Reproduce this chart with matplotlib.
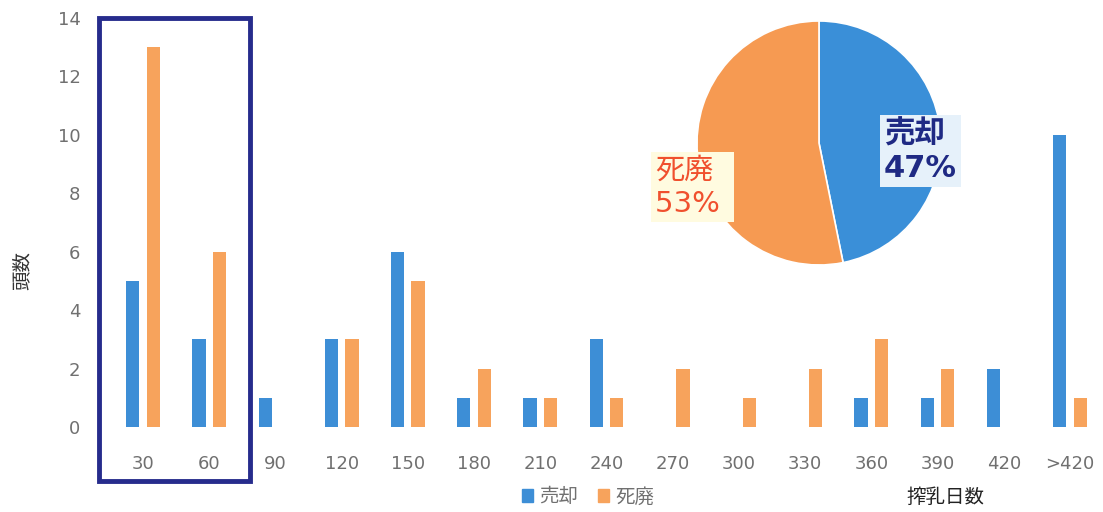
import matplotlib.pyplot as plt
import numpy as np
from matplotlib.patches import Patch, Rectangle

plt.rcParams['font.family'] = ['Noto Sans CJK JP', 'DejaVu Sans']

# days in milk (bins) and head counts for each outcome
days = ['30', '60', '90', '120', '150', '180', '210', '240', '270',
        '300', '330', '360', '390', '420', '>420']
sold = [5, 3, 1, 3, 6, 1, 1, 3, 0, 0, 0, 1, 1, 2, 10]
dead = [13, 6, 0, 3, 5, 2, 1, 1, 2, 1, 2, 3, 2, 0, 1]
y_ticks = [0, 2, 4, 6, 8, 10, 12, 14]

blue = '#3d8ed6'
orange = '#f7a35c'
grey = '#707070'
latin = ['DejaVu Sans', 'Noto Sans CJK JP']

W, H = 1103, 512
fig = plt.figure(figsize=(W / 100, H / 100), dpi=100)
ax = fig.add_axes([100 / W, 85 / H, 1003 / W, 409 / H])

x = np.arange(len(days))
ax.bar(x - 0.155, sold, width=0.2, color=blue)
ax.bar(x + 0.155, dead, width=0.2, color=orange)

ax.set_xlim(-0.65, 14.5)
ax.set_ylim(0, 14)
ax.set_yticks(y_ticks)
ax.set_xticks(x)
ax.set_xticklabels(days)
for lab in ax.get_xticklabels() + ax.get_yticklabels():
    lab.set_family(latin)
ax.tick_params(axis='both', length=0, labelsize=13, labelcolor=grey)
ax.tick_params(axis='x', pad=20)
ax.tick_params(axis='y', pad=14)
for s in ax.spines.values():
    s.set_visible(False)

fig.text(22 / W, 1 - 270 / H, '頭数', rotation=90, ha='center', va='center',
         fontsize=14, color='#333333')
fig.text(945 / W, 1 - 497 / H, '搾乳日数', ha='center', va='center',
         fontsize=14, color='#222222')

handles = [Patch(color=blue, label='売却'), Patch(color=orange, label='死廃')]
fig.legend(handles=handles, loc='center', bbox_to_anchor=(588 / W, 1 - 497 / H),
           ncol=2, frameon=False, fontsize=14, handlelength=0.6,
           handleheight=0.6, handletextpad=0.3, columnspacing=1.0,
           labelcolor=grey)

# highlight box around the first two bins
fig.patches.append(Rectangle((99 / W, 1 - 481 / H), 151 / W, 463 / H,
                             transform=fig.transFigure, fill=False,
                             edgecolor='#262c8c', linewidth=3.5))

# share of outcomes
pax = fig.add_axes([(819 - 122) / W, (512 - 143 - 124) / H, 244 / W, 248 / H])
totals = [sum(sold), sum(dead)]
pax.pie(totals, colors=['#3a8fd8', '#f69a52'], startangle=90,
        counterclock=False, wedgeprops=dict(edgecolor='white', linewidth=1.2))
pax.set_xlim(-1, 1)
pax.set_ylim(-1, 1)

pct = [round(100 * t / sum(totals)) for t in totals]
fig.text(884 / W, 1 - 151 / H, f'売却\n{pct[0]}%', ha='left', va='center',
         fontsize=22, fontweight='bold', color='#1f2a84', linespacing=1.25,
         family=latin,
         bbox=dict(boxstyle='square,pad=0.12', facecolor='#e6f1fa',
                   edgecolor='none'))
fig.text(655 / W, 1 - 187 / H, f'死廃\n{pct[1]}% ', ha='left', va='center',
         fontsize=21, color='#f0502e', linespacing=1.25, family=latin,
         bbox=dict(boxstyle='square,pad=0.15', facecolor='#fffbe0',
                   edgecolor='none'))

fig.savefig('out.png', dpi=100)
